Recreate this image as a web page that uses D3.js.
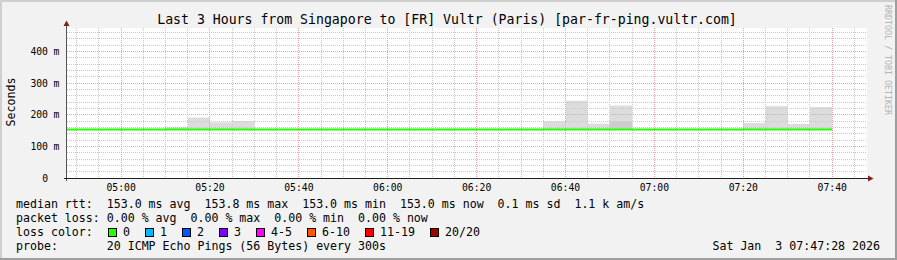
<!DOCTYPE html>
<html>
<head>
<meta charset="utf-8">
<script src="https://cdn.jsdelivr.net/npm/d3@7"></script>
<style>
  body { margin: 0; background: #f2f2f2; }
  text { font-family: "DejaVu Sans Mono", monospace; white-space: pre; }
</style>
</head>
<body>
<div id="chart"></div>
<script>

//Chart texts and data
var title = "Last 3 Hours from Singapore to [FR] Vultr (Paris) [par-fr-ping.vultr.com]";
var yTitle = "Seconds";
var watermark = "RRDTOOL / TOBI OETIKER";

//5 minute bins (end time of each bin)
var binEnds = ["04:50", "04:55", "05:00", "05:05", "05:10", "05:15", "05:20", "05:25", "05:30",
               "05:35", "05:40", "05:45", "05:50", "05:55", "06:00", "06:05", "06:10", "06:15",
               "06:20", "06:25", "06:30", "06:35", "06:40", "06:45", "06:50", "06:55", "07:00",
               "07:05", "07:10", "07:15", "07:20", "07:25", "07:30", "07:35", "07:40"];
var medianMs = [153.0, 153.0, 153.0, 153.0, 153.0, 153.0, 153.0, 153.0, 153.0,
                153.0, 153.0, 153.0, 153.0, 153.0, 153.0, 153.0, 153.0, 153.0,
                153.0, 153.0, 153.0, 153.0, 153.0, 153.0, 153.0, 153.0, 153.0,
                153.0, 153.0, 153.0, 153.0, 153.0, 153.0, 153.0, 153.0];
var smokeMaxMs = [null, null, null, null, null, 162, 191, 176, 180,
                  null, null, null, null, null, null, null, null, null,
                  null, null, null, null, 179, 244, 172, 229, null,
                  null, null, null, null, 174, 227, 171, 224];
var smokeMidMs = [null, null, null, null, null, null, null, null, null,
                  null, null, null, null, null, null, null, null, null,
                  null, null, null, null, null, null, null, 177, null,
                  null, null, null, null, null, null, null, null];

var yTicks = [0, 100, 200, 300, 400];
var yTickNums = ["0", "100", "200", "300", "400"];
var yTickUnits = ["", "m", "m", "m", "m"];
var xTickLabels = ["05:00", "05:20", "05:40", "06:00", "06:20", "06:40", "07:00", "07:20", "07:40"];

var legendRows = [
    "median rtt:  153.0 ms avg  153.8 ms max  153.0 ms min  153.0 ms now  0.1 ms sd  1.1 k am/s",
    "packet loss: 0.00 % avg  0.00 % max  0.00 % min  0.00 % now",
    "loss color:",
    "probe:       20 ICMP Echo Pings (56 Bytes) every 300s"
];
var lossLabels = ["0", "1", "2", "3", "4-5", "6-10", "11-19", "20/20"];
var lossColors = ["#26ff00", "#00b8ff", "#0059ff", "#7e00ff", "#ff00ff", "#ff5500", "#ff0000", "#a10000"];
var stamp = "Sat Jan  3 07:47:28 2026";

//Size
var w = 897;
var h = 260;

var hm = function(s) {
    var p = s.split(":");
    return new Date(Date.UTC(2026, 0, 3, +p[0], +p[1]));
}

//Scales
var x = d3.scaleUtc()
    .domain([new Date(Date.UTC(2026, 0, 3, 4, 47, 43)), new Date(Date.UTC(2026, 0, 3, 7, 47, 43))])
    .range([66.5, 866.5]);

var y = d3.scaleLinear()
    .domain([0, 474])
    .range([178, 28]);

var crisp = v => Math.floor(v) + 0.5;

var svg = d3.select("#chart")
    .append("svg")
    .attr("width", w)
    .attr("height", h);

//Background and frame
svg.append("rect").attr("width", w).attr("height", h).attr("fill", "#f2f2f2");
svg.append("rect").attr("x", 0).attr("y", 0).attr("width", w).attr("height", 2).attr("fill", "#cfcfcf");
svg.append("rect").attr("x", 0).attr("y", 0).attr("width", 2).attr("height", h).attr("fill", "#cfcfcf");
svg.append("rect").attr("x", 0).attr("y", h - 2).attr("width", w).attr("height", 2).attr("fill", "#9e9e9e");
svg.append("rect").attr("x", w - 2).attr("y", 0).attr("width", 2).attr("height", h).attr("fill", "#9e9e9e");

//Canvas
svg.append("rect")
    .attr("x", 67).attr("y", 28)
    .attr("width", 800).attr("height", 150)
    .attr("fill", "white");

svg.append("clipPath").attr("id", "plot")
    .append("rect").attr("x", 67).attr("y", 28).attr("width", 800).attr("height", 150);

//Smoke
var bins = binEnds.map((d, i) => ({end: hm(d), med: medianMs[i], max: smokeMaxMs[i], mid: smokeMidMs[i]}));

var smoke = svg.append("g").attr("clip-path", "url(#plot)");

smoke.selectAll("rect.outer")
    .data(bins.filter(d => d.max != null))
    .enter()
    .append("rect")
    .attr("class", "outer")
    .attr("x", d => x(d3.utcMinute.offset(d.end, -5)))
    .attr("width", d => x(d.end) - x(d3.utcMinute.offset(d.end, -5)))
    .attr("y", d => y(d.max))
    .attr("height", d => y(d.med) - y(d.max))
    .attr("fill", "#dcdcdc");

smoke.selectAll("rect.inner")
    .data(bins.filter(d => d.mid != null))
    .enter()
    .append("rect")
    .attr("class", "inner")
    .attr("x", d => x(d3.utcMinute.offset(d.end, -5)))
    .attr("width", d => x(d.end) - x(d3.utcMinute.offset(d.end, -5)))
    .attr("y", d => y(d.mid))
    .attr("height", d => y(d.med) - y(d.mid))
    .attr("fill", "#cdcdcd");

//Grid
var grid = svg.append("g").attr("class", "grid");
var minorY = d3.range(20, 474, 20).filter(v => v % 100 != 0);

grid.selectAll("line.hminor")
    .data(minorY)
    .enter()
    .append("line")
    .attr("x1", 67).attr("x2", 867)
    .attr("y1", d => crisp(y(d))).attr("y2", d => crisp(y(d)))
    .attr("stroke", "#c8c8c8")
    .attr("stroke-dasharray", "1,1");

var majorX = xTickLabels.map(hm);
var minorX = x.ticks(d3.utcMinute.every(5))
    .filter(d => d.getUTCMinutes() % 20 != 0);

grid.selectAll("line.vminor")
    .data(minorX)
    .enter()
    .append("line")
    .attr("x1", d => crisp(x(d))).attr("x2", d => crisp(x(d)))
    .attr("y1", 28).attr("y2", 178)
    .attr("stroke", "#c8c8c8")
    .attr("stroke-dasharray", "1,1");

grid.selectAll("line.hmajor")
    .data(yTicks.filter(d => d > 0))
    .enter()
    .append("line")
    .attr("x1", 67).attr("x2", 867)
    .attr("y1", d => crisp(y(d))).attr("y2", d => crisp(y(d)))
    .attr("stroke", "#eea0a0")
    .attr("stroke-dasharray", "1,1");

grid.selectAll("line.vmajor")
    .data(majorX)
    .enter()
    .append("line")
    .attr("x1", d => crisp(x(d))).attr("x2", d => crisp(x(d)))
    .attr("y1", 28).attr("y2", 178)
    .attr("stroke", "#eea0a0")
    .attr("stroke-dasharray", "1,1");

//Median line, value of a bin holds over the 5 minutes before its end
var pts = [{end: d3.utcMinute.offset(bins[0].end, -5), med: bins[0].med}].concat(bins);

var line = d3.line()
    .x(d => x(d.end))
    .y(d => y(d.med))
    .curve(d3.curveStepBefore);

svg.append("path")
    .datum(pts)
    .attr("clip-path", "url(#plot)")
    .attr("d", line)
    .attr("fill", "none")
    .attr("stroke", lossColors[0])
    .attr("stroke-width", 2);

//Axes
svg.append("line")
    .attr("x1", 66.5).attr("x2", 66.5)
    .attr("y1", 24).attr("y2", 181)
    .attr("stroke", "#555");

svg.append("line")
    .attr("x1", 64).attr("x2", 869)
    .attr("y1", 178.5).attr("y2", 178.5)
    .attr("stroke", "#1f1f1f");

svg.append("path")
    .attr("d", "M63.5,26L69.5,26L66.5,20.5Z")
    .attr("fill", "#801f1f");

svg.append("path")
    .attr("d", "M868,175.5L868,181.5L873.5,178.5Z")
    .attr("fill", "#801f1f");

//Y tick labels
var yLab = svg.append("g").style("font-size", "9.75px").attr("fill", "#000");

yLab.selectAll("text.num")
    .data(yTicks)
    .enter()
    .append("text")
    .attr("x", 48)
    .attr("y", d => y(d) + 3.5)
    .attr("text-anchor", "end")
    .text((d, i) => yTickNums[i]);

yLab.selectAll("text.unit")
    .data(yTicks)
    .enter()
    .append("text")
    .attr("x", 53.6)
    .attr("y", d => y(d) + 3.5)
    .text((d, i) => yTickUnits[i]);

//X tick labels
svg.append("g")
    .style("font-size", "9.75px")
    .selectAll("text")
    .data(majorX)
    .enter()
    .append("text")
    .attr("x", d => x(d))
    .attr("y", 191)
    .attr("text-anchor", "middle")
    .text((d, i) => xTickLabels[i]);

//Titles
svg.append("text")
    .attr("x", 447)
    .attr("y", 24)
    .attr("text-anchor", "middle")
    .style("font-size", "13.2px")
    .text(title);

svg.append("text")
    .attr("transform", "translate(15,102) rotate(-90)")
    .attr("text-anchor", "middle")
    .style("font-size", "11.6px")
    .text(yTitle);

svg.append("text")
    .attr("transform", "translate(884.5,5) rotate(90)")
    .style("font-size", "8.3px")
    .attr("fill", "#b4b4b4")
    .text(watermark);

//Legend
var legend = svg.append("g").style("font-size", "11.6px");

legend.selectAll("text.row")
    .data(legendRows)
    .enter()
    .append("text")
    .attr("x", 16)
    .attr("y", (d, i) => 208 + i * 14)
    .text(d => d);

var lossX = [];
var bx = 108;
lossLabels.forEach(function(d) {
    lossX.push(bx);
    bx += 30 + 7 * d.length;
});

legend.selectAll("rect.loss")
    .data(lossLabels)
    .enter()
    .append("rect")
    .attr("x", (d, i) => lossX[i] + 0.5)
    .attr("y", 228.5)
    .attr("width", 8)
    .attr("height", 8)
    .attr("fill", (d, i) => lossColors[i])
    .attr("stroke", "#000");

legend.selectAll("text.loss")
    .data(lossLabels)
    .enter()
    .append("text")
    .attr("x", (d, i) => lossX[i] + 15)
    .attr("y", 236)
    .text(d => d);

legend.append("text")
    .attr("x", 880)
    .attr("y", 250)
    .attr("text-anchor", "end")
    .text(stamp);

</script>
</body>
</html>
